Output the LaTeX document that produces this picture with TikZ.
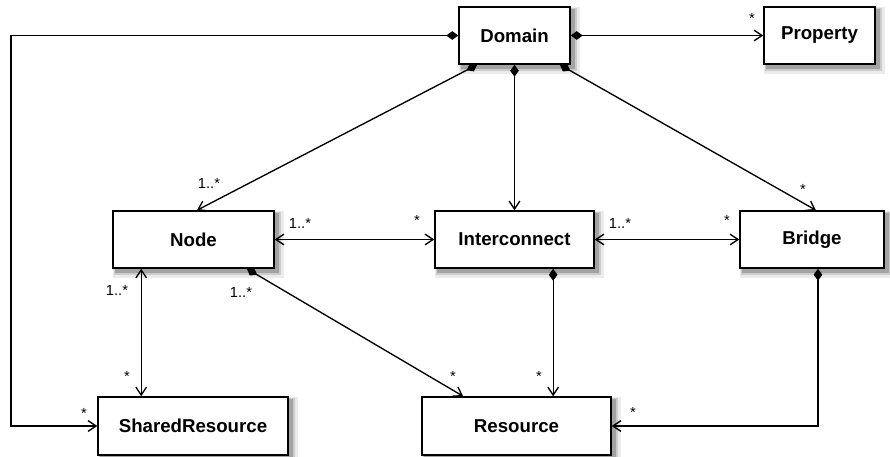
\documentclass[tikz,border=0pt]{standalone}
\usepackage{fontspec}
\setmainfont{Liberation Sans}
\usetikzlibrary{arrows.meta,backgrounds}

\tikzset{every picture/.style={line width=0.75pt}}
\tikzset{
  cls/.style={draw, line width=1.1pt, fill=white, inner sep=0pt, minimum height=42.75pt,
    font=\fontsize{14}{16}\selectfont\bfseries},
  mult/.style={inner sep=0pt, font=\fontsize{11}{13}\selectfont},
  link/.style={line width=1pt, -{Straight Barb[length=6pt,width=8pt]}},
  both/.style={line width=1pt, {Straight Barb[length=6pt,width=8pt]}-{Straight Barb[length=6pt,width=8pt]}},
  part/.style={line width=1pt, {Diamond[length=9pt,width=6.5pt]}-{Straight Barb[length=6pt,width=8pt]}},
}

\begin{document}
\begin{tikzpicture}[x=0.75pt,y=0.75pt,yscale=-1,xscale=1]
\useasboundingbox (0,0) rectangle (890,457);

%Shape: Rectangle (classes)
\node [cls, minimum width=83.25pt] (Domain) at (514.5,35.5) {Domain};
\node [cls, minimum width=83.25pt] (Property) at (819.5,35.5) {Property};
\node [cls, minimum width=120.75pt] (Node) at (193.5,239.5) {Node};
\node [cls, minimum width=119.25pt] (Interconnect) at (514.5,239.5) {Interconnect};
\node [cls, minimum width=108pt] (Bridge) at (812,239.5) {Bridge};
\node [cls, minimum width=142.5pt, minimum height=43.5pt] (SharedResource) at (193,426) {SharedResource};
\node [cls, minimum width=141.75pt, minimum height=43.5pt] (Resource) at (516.5,426) {Resource};

% shadows under the classes
\begin{scope}[on background layer]
\foreach \n in {Domain,Property,Node,Interconnect,Bridge,SharedResource,Resource} {
  \fill [black!8] ([shift={(1,1)}]\n.north west) rectangle ([shift={(9,9)}]\n.south east);
  \fill [black!20] ([shift={(2,2)}]\n.north west) rectangle ([shift={(6.5,6.5)}]\n.south east);
  \fill [black!36] ([shift={(3,3)}]\n.north west) rectangle ([shift={(4,4)}]\n.south east);
}
\end{scope}

%Straight Lines
\coordinate (topleft) at (11,35.5);
\coordinate (botleft) at (11,426);
\draw [part] (Domain.west) -- (topleft) -- (botleft) -- (SharedResource.west);
\draw [part] (Domain.east) -- (Property.west);
\draw [part] ([xshift=-28pt]Domain.south) -- ([xshift=2.6pt]Node.north);
\draw [part] (Domain.south) -- (Interconnect.north);
\draw [part] ([xshift=34pt]Domain.south) -- ([xshift=3pt]Bridge.north);
\draw [both] (Node.east) -- (Interconnect.west);
\draw [both] (Interconnect.east) -- (Bridge.west);
\draw [both] ([xshift=-39.2pt]Node.south) -- ([xshift=-39.2pt]Node.south |- SharedResource.north);
\draw [part] ([xshift=40pt]Node.south) -- ([xshift=-40pt]Resource.north);
\draw [part] ([xshift=29pt]Interconnect.south) -- ([xshift=29pt]Interconnect.south |- Resource.north);
\draw [part] ([xshift=4.5pt]Bridge.south) |- (Resource.east);

% Text Node
\node [mult] (m1) at (752,18) {*};
\node [mult] (m2) at (209,183) {1..*};
\node [mult] (m3) at (803,189) {*};
\node [mult] (m4) at (300,223) {1..*};
\node [mult] (m5) at (417,220) {*};
\node [mult] (m6) at (620,223) {1..*};
\node [mult] (m7) at (727,220) {*};
\node [mult] (m8) at (117,290) {1..*};
\node [mult] (m9) at (241,292) {1..*};
\node [mult] (m10) at (127,376) {*};
\node [mult] (m11) at (84,413) {*};
\node [mult] (m12) at (453,376) {*};
\node [mult] (m13) at (539,376) {*};
\node [mult] (m14) at (633,412) {*};

\end{tikzpicture}
\end{document}
